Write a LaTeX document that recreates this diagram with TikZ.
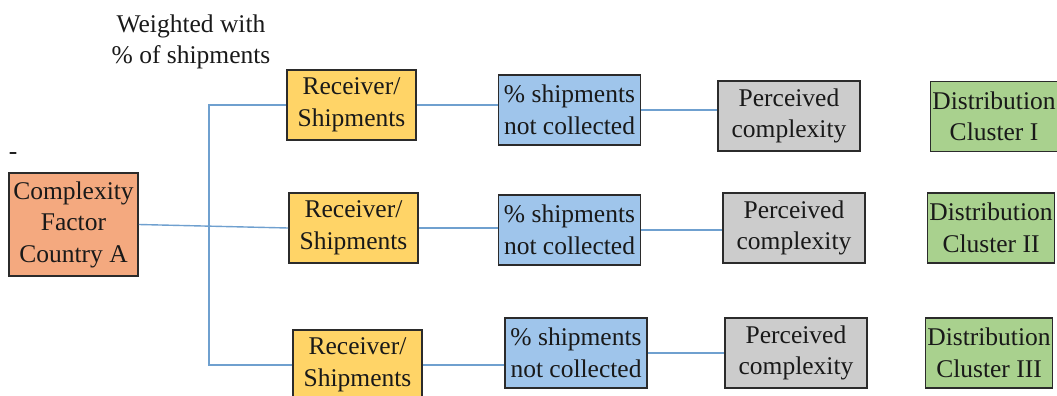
\documentclass[tikz,border=0pt]{standalone}
\usepackage{fontspec}
\setmainfont{Liberation Serif}
\newfontfamily\boxfont{Liberation Serif}
\definecolor{facfill}{HTML}{F4A97F}
\definecolor{recfill}{HTML}{FFD467}
\definecolor{pctfill}{HTML}{9FC5EB}
\definecolor{perfill}{HTML}{CCCCCC}
\definecolor{clufill}{HTML}{A9D18E}
\definecolor{linkblue}{HTML}{6FA0CF}
\definecolor{boxline}{HTML}{2B2B2B}
\begin{document}
\begin{tikzpicture}[
  x=1pt, y=-1pt,
  every node/.style = {align=center, font=\boxfont\rmfamily\fontsize{25.5}{31.5}\selectfont, text=black!90},
  box/.style = {shape=rectangle, draw=boxline, line width=1.6pt, inner sep=1pt,
                minimum width=142pt, minimum height=70pt},
  facbox/.style = {box, fill=facfill, minimum width=129pt, minimum height=103pt},
  recbox/.style = {box, fill=recfill, minimum width=129pt},
  pctbox/.style = {box, fill=pctfill},
  perbox/.style = {box, fill=perfill},
  clubox/.style = {box, fill=clufill, minimum width=127pt},
  link/.style = {draw=linkblue, line width=1.4pt}
]
  \useasboundingbox (0,0) rectangle (1057,396);

  \node (wtd) at (191,42) {Weighted with\\\% of shipments};
  \node (dash) at (13,156) {-};
  \node[facbox] (fac) at (73.5,224.5) {Complexity\\Factor\\Country A};

  \node[recbox] (rec1) at (351.5,105) {Receiver/\\Shipments};
  \node[recbox] (rec2) at (353.5,228) {Receiver/\\Shipments};
  \node[recbox] (rec3) at (357.5,365) {Receiver/\\Shipments};

  \node[pctbox] (pct1) at (569.5,110) {\% shipments\\not collected};
  \node[pctbox] (pct2) at (569.5,230) {\% shipments\\not collected};
  \node[pctbox] (pct3) at (576,353) {\% shipments\\not collected};

  \node[perbox] (per1) at (789,116) {Perceived\\complexity};
  \node[perbox] (per2) at (794,228) {Perceived\\complexity};
  \node[perbox] (per3) at (796,353) {Perceived\\complexity};

  \node[clubox] (clu1) at (994,116.5) {Distribution\\Cluster I};
  \node[clubox] (clu2) at (991,228) {Distribution\\Cluster II};
  \node[clubox] (clu3) at (989,353) {Distribution\\Cluster III};

  % fan out from the complexity factor
  \coordinate (bus) at (209,229);
  \draw[link] (fac.east) -- (rec2.west);
  \draw[link] (rec1.west) -| (bus) |- (rec3.west);

  % rows
  \draw[link] (rec1.east) -- (rec1.east -| pct1.west);
  \draw[link] (rec2.east) -- (rec2.east -| pct2.west);
  \draw[link] (rec3.east) -- (rec3.east -| pct3.west);
  \draw[link] (pct1.east) -- (pct1.east -| per1.west);
  \draw[link] (pct2.east) -- (pct2.east -| per2.west);
  \draw[link] (pct3.east) -- (pct3.east -| per3.west);
\end{tikzpicture}
\end{document}
